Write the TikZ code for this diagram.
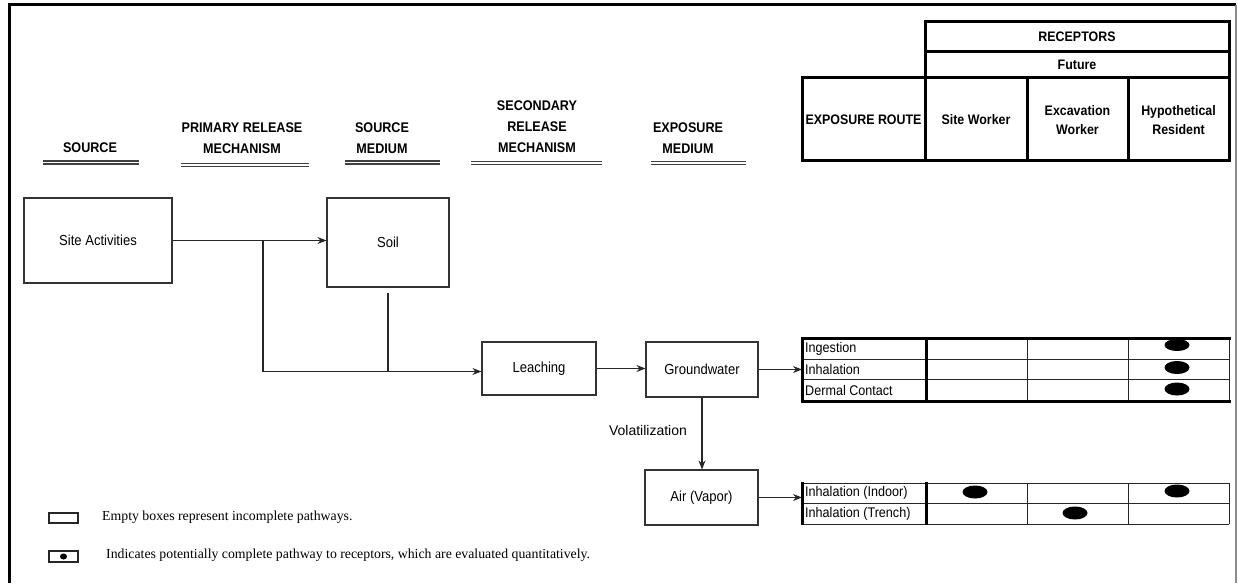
\documentclass[tikz,border=0pt]{standalone}
\usepackage{fontspec}
\setmainfont{Liberation Sans}
\newfontfamily\narrowfont[FakeStretch=0.9]{Liberation Sans}
\newfontfamily\legfont{Liberation Serif}
\usetikzlibrary{arrows.meta,calc}
\begin{document}
\begin{tikzpicture}[x=1pt,y=-1pt,
  hdr/.style={font=\narrowfont\fontsize{14}{21}\selectfont\bfseries, align=center, inner sep=0pt},
  thdr/.style={font=\narrowfont\fontsize{13.8}{19}\selectfont\bfseries, align=center, inner sep=0pt},
  fbox/.style={draw=black!80, line width=1.1pt, inner sep=0pt, font=\narrowfont\fontsize{14.5}{16}\selectfont},
  flow/.style={draw=black!85, line width=1.1pt, -{Stealth[length=9pt,width=7pt]}},
  plain/.style={draw=black!85, line width=1.1pt},
  dline/.style={draw=black!75, line width=1.3pt},
  thk/.style={draw=black, line width=3pt},
  thn/.style={draw=black!85, line width=1pt},
  rowtxt/.style={anchor=west, inner sep=0pt, font=\narrowfont\fontsize{14}{15}\selectfont},
  dot/.style={fill=black},
  legtxt/.style={anchor=west, inner sep=0pt, font=\legfont\fontsize{13.8}{16}\selectfont}
]
\useasboundingbox (0,0) rectangle (1238,583);
\fill[white] (0,0) rectangle (1238,583);
% outer frame
\draw[black, line width=3pt] (9,583) -- (9,5) -- (1236,5);
\draw[black!45, line width=1.5pt] (1236,5) -- (1236,583);

% column headings
\node[hdr] (hsrc) at (90,148) {SOURCE};
\draw[dline] (43,161) -- (139,161) (43,164) -- (139,164);
\node[hdr] (hprm) at (242,138) {PRIMARY RELEASE\\MECHANISM};
\draw[dline] (181,163.5) -- (309,163.5) (181,166.5) -- (309,166.5);
\node[hdr] (hsm) at (382,138) {SOURCE\\MEDIUM};
\draw[dline] (345,161) -- (440,161) (345,164) -- (440,164);
\node[hdr] (hsec) at (537,127) {SECONDARY\\RELEASE\\MECHANISM};
\draw[dline] (471,161.5) -- (602,161.5) (471,164.5) -- (602,164.5);
\node[hdr] (hexp) at (688,138) {EXPOSURE\\MEDIUM};
\draw[dline] (651,161.5) -- (746,161.5) (651,164.5) -- (746,164.5);

% flow boxes
\node[fbox, minimum width=148pt, minimum height=85pt] (sa) at (98,240.5) {Site Activities};
\node[fbox, minimum width=122pt, minimum height=89pt] (soil) at (388,242.5) {Soil};
\node[fbox, minimum width=114pt, minimum height=53pt] (leach) at (539,368.5) {Leaching};
\node[fbox, minimum width=112pt, minimum height=55pt] (gw) at (702,369.5) {Groundwater};
\node[fbox, minimum width=113pt, minimum height=55pt] (air) at (701.5,497.5) {Air (Vapor)};

% connectors
\coordinate (br) at (263,240.5);
\coordinate (leachin) at ($(leach.west)+(0,3)$);
\coordinate (t1in) at (802,369);
\coordinate (t2in) at (802,493);
\draw[flow] (sa.east) -- (sa.east -| soil.west);
\draw[flow] (br) |- (leachin);
\draw[plain] ($(soil.south)+(0,5)$) -- (soil.south |- leachin);
\draw[flow] (leach.east) -- (leach.east -| gw.west);
\draw[flow] (gw.east) -- (gw.east -| t1in);
\draw[flow] (gw.south) -- (gw.south |- air.north);
\node[inner sep=0pt, font=\fontsize{14}{16}\selectfont] (vol) at (648,430) {Volatilization};
\draw[flow] (air.east) -- (air.east -| t2in);

% receptors header table
\draw[thk] (925,22) rectangle (1229,52);
\draw[thk] (925,52) rectangle (1229,78);
\draw[thk] (802,78) rectangle (1229,160);
\draw[thk] (925,78) -- (925,160) (1027,78) -- (1027,160) (1128,78) -- (1128,160);
\node[thdr] (rec) at (1077,37) {RECEPTORS};
\node[thdr] (fut) at (1077,65) {Future};
\node[thdr] (er) at (863.5,120) {EXPOSURE ROUTE};
\node[thdr] (sw) at (976,120) {Site Worker};
\node[thdr] (ew) at (1077.5,120.5) {Excavation\\Worker};
\node[thdr] (hr) at (1178.5,120.5) {Hypothetical\\Resident};

% lower table 1
\draw[thn] (802,359) -- (1229,359) (802,379) -- (1229,379);
\draw[thn] (1027,338) -- (1027,401) (1128,338) -- (1128,401) (1229,338) -- (1229,401);
\draw[thk] (800.5,338) -- (1230.5,338) (800.5,401) -- (1230.5,401);
\draw[thk] (802,338) -- (802,401) (926,338) -- (926,401);
\node[rowtxt] (ing) at (805,348.5) {Ingestion};
\node[rowtxt] (inh) at (805,369) {Inhalation};
\node[rowtxt] (der) at (805,390) {Dermal Contact};
\fill[dot] (1177,345) ellipse [x radius=12.5, y radius=6];
\fill[dot] (1177,367.5) ellipse [x radius=12.5, y radius=6.5];
\fill[dot] (1177,389) ellipse [x radius=12.5, y radius=6.5];

% lower table 2
\draw[thn] (802,483) -- (1229,483) (802,503.5) -- (1229,503.5) (802,524) -- (1229,524);
\draw[thn] (1027,483) -- (1027,524) (1128,483) -- (1128,524) (1229,483) -- (1229,524);
\draw[thk] (802,482) -- (802,525) (926,482) -- (926,525);
\node[rowtxt] (ind) at (805,493) {Inhalation (Indoor)};
\node[rowtxt] (tre) at (805,513.5) {Inhalation (Trench)};
\fill[dot] (975,492) ellipse [x radius=12.5, y radius=6.5];
\fill[dot] (1177,491) ellipse [x radius=12.5, y radius=6.5];
\fill[dot] (1075,513) ellipse [x radius=12.5, y radius=6.5];

% legend
\draw[black!85, line width=1.2pt] (49,513) rectangle (78,523);
\node[legtxt] (l1) at (102,517) {Empty boxes represent incomplete pathways.};
\draw[black!85, line width=1.6pt] (49,551) rectangle (78,562);
\fill[black] (63.5,556.5) ellipse [x radius=3.5, y radius=3];
\node[legtxt] (l2) at (106,555) {Indicates potentially complete pathway to receptors, which are evaluated quantitatively.};
\end{tikzpicture}
\end{document}
